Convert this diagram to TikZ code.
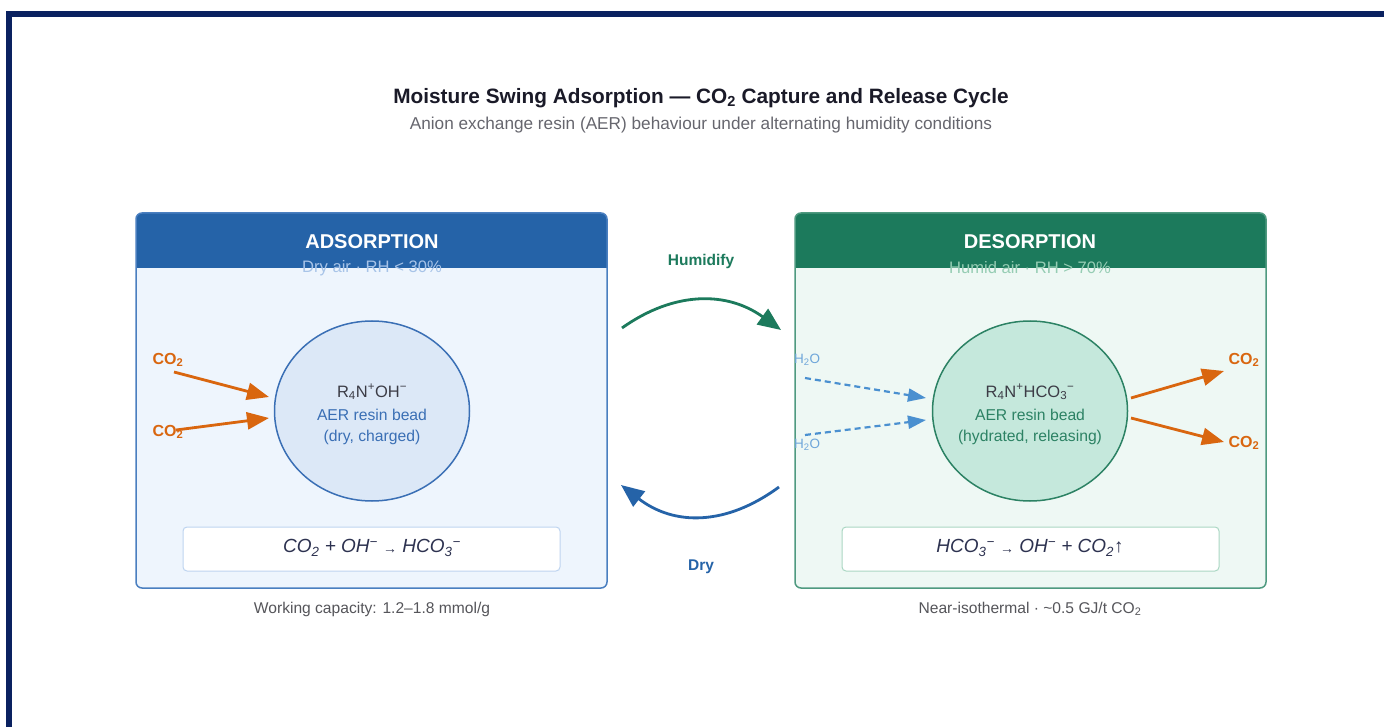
\documentclass[tikz,border=0pt]{standalone}
\usepackage{fontspec}
\setmainfont{Liberation Sans}
\usetikzlibrary{arrows.meta,shapes.geometric}
\definecolor{navy}{RGB}{10,33,96}
\definecolor{titlec}{RGB}{26,26,40}
\definecolor{subc}{RGB}{102,102,110}
\definecolor{lhead}{RGB}{37,99,168}
\definecolor{lbody}{RGB}{238,245,253}
\definecolor{lborder}{RGB}{74,127,192}
\definecolor{lcfill}{RGB}{220,232,247}
\definecolor{lcdraw}{RGB}{58,111,181}
\definecolor{lsub}{RGB}{168,196,232}
\definecolor{leqb}{RGB}{190,212,240}
\definecolor{ghead}{RGB}{28,122,92}
\definecolor{gbody}{RGB}{238,248,244}
\definecolor{gborder}{RGB}{79,154,128}
\definecolor{gcfill}{RGB}{197,232,220}
\definecolor{gcdraw}{RGB}{44,130,100}
\definecolor{gsub}{RGB}{150,205,180}
\definecolor{geqb}{RGB}{170,215,195}
\definecolor{orng}{RGB}{217,102,15}
\definecolor{h2oc}{RGB}{74,144,208}
\definecolor{darkt}{RGB}{60,60,70}
\definecolor{eqc}{RGB}{45,50,80}
\definecolor{capc}{RGB}{85,85,90}
\newcommand\fsz[1]{\fontsize{#1}{#1}\selectfont}
\newcommand\sbs[1]{\textsubscript{#1}}
\newcommand\sps[1]{\textsuperscript{#1}}
\newcommand\smarr{{\fsz{14}\raisebox{-1pt}{→}}}
\tikzset{
  txt/.style={inner sep=0pt, anchor=center},
  bead/.style={ellipse, minimum width=195pt, minimum height=180pt, inner sep=0pt, line width=1.5pt},
  eqbox/.style={fill=white, line width=1pt, rounded corners=4pt},
  co2arrow/.style={draw=orng, line width=2.8pt, -{Triangle[length=22pt,width=17pt]}},
  h2oarrow/.style={draw=h2oc, line width=2.2pt, dash pattern=on 6pt off 4pt, -{Triangle[length=18pt,width=13pt]}},
  cyclearrow/.style={line width=2.8pt, -{Triangle[length=23pt,width=19pt]}},
}
\begin{document}
\begin{tikzpicture}[x=1pt,y=-1pt]
\useasboundingbox (0,0) rectangle (1384,727);
\fill[white] (0,0) rectangle (1384,727);
\fill[navy] (6,11) rectangle (1384,17);
\fill[navy] (6,11) rectangle (12,727);

% titles
\node[txt, text=titlec] (title) at (701,98) {\fsz{20.8}\bfseries Moisture Swing Adsorption — CO\sbs{2} Capture and Release Cycle};
\node[txt, text=subc] (subtitle) at (701,125) {\fsz{17.2}Anion exchange resin (AER) behaviour under alternating humidity conditions};

% ---------- left panel ----------
\fill[lbody, rounded corners=6pt] (136,213) rectangle (607,588);
\begin{scope}
\clip[rounded corners=6pt] (136,213) rectangle (607,588);
\fill[lhead] (136,213) rectangle (607,268);
\end{scope}
\draw[lborder, line width=1.5pt, rounded corners=6pt] (136,213) rectangle (607,588);
\node[txt, text=white] (lhd) at (372,242) {\fsz{20}\bfseries ADSORPTION};
\node[txt, text=lsub] (lsubt) at (372,268) {\fsz{16.6}Dry air · RH < 30\%};

\node[bead, fill=lcfill, draw=lcdraw] (bA) at (372,411) {};
\node[txt, text=darkt] (bA1) at (372,392) {\fsz{16.5}R\sbs{4}N\sps{+}OH\sps{−}};
\node[txt, text=lcdraw] (bA2) at (372,415) {\fsz{15.7}AER resin bead};
\node[txt, text=lcdraw] (bA3) at (372,437) {\fsz{15.7}(dry, charged)};

\node[txt, text=orng] (lco1) at (168,360) {\fsz{16}\bfseries CO\sbs{2}};
\node[txt, text=orng] (lco2) at (168,432) {\fsz{16}\bfseries CO\sbs{2}};
\coordinate (la1s) at (174,372);
\coordinate (la1e) at (269,397);
\coordinate (la2s) at (176,430);
\coordinate (la2e) at (269,418);
\draw[co2arrow] (la1s) -- (la1e);
\draw[co2arrow] (la2s) -- (la2e);

\draw[eqbox, draw=leqb] (183,527) rectangle (560,571);
\node[txt, text=eqc] (leq) at (372,548) {\fsz{19}\itshape CO\sbs{2} + OH\sps{−} \smarr{} HCO\sbs{3}\sps{−}};
\node[txt, text=capc] (lcap) at (372,609) {\fsz{15.6}Working capacity: 1.2–1.8 mmol/g};

% ---------- right panel ----------
\fill[gbody, rounded corners=6pt] (795,213) rectangle (1266,588);
\begin{scope}
\clip[rounded corners=6pt] (795,213) rectangle (1266,588);
\fill[ghead] (795,213) rectangle (1266,268);
\end{scope}
\draw[gborder, line width=1.5pt, rounded corners=6pt] (795,213) rectangle (1266,588);
\node[txt, text=white] (rhd) at (1030,242) {\fsz{20}\bfseries DESORPTION};
\node[txt, text=gsub] (rsubt) at (1030,268) {\fsz{16.6}Humid air · RH > 70\%};

\node[bead, fill=gcfill, draw=gcdraw] (bD) at (1030,411) {};
\node[txt, text=darkt] (bD1) at (1030,392) {\fsz{16.5}R\sbs{4}N\sps{+}HCO\sbs{3}\sps{−}};
\node[txt, text=gcdraw] (bD2) at (1030,415) {\fsz{15.7}AER resin bead};
\node[txt, text=gcdraw] (bD3) at (1030,437) {\fsz{15.7}(hydrated, releasing)};

\node[txt, text=h2oc!80] (h1) at (807,360) {\fsz{13.5}H\sbs{2}O};
\node[txt, text=h2oc!80] (h2) at (807,445) {\fsz{13.5}H\sbs{2}O};
\coordinate (ha1s) at (805,378);
\coordinate (ha1e) at (926,398);
\coordinate (ha2s) at (805,435);
\coordinate (ha2e) at (926,420);
\draw[h2oarrow] (ha1s) -- (ha1e);
\draw[h2oarrow] (ha2s) -- (ha2e);

\node[txt, text=orng] (rco1) at (1244,360) {\fsz{16}\bfseries CO\sbs{2}};
\node[txt, text=orng] (rco2) at (1244,443) {\fsz{16}\bfseries CO\sbs{2}};
\coordinate (ra1s) at (1131,398);
\coordinate (ra1e) at (1224,371);
\coordinate (ra2s) at (1131,418);
\coordinate (ra2e) at (1224,442);
\draw[co2arrow] (ra1s) -- (ra1e);
\draw[co2arrow] (ra2s) -- (ra2e);

\draw[eqbox, draw=geqb] (842,527) rectangle (1219,571);
\node[txt, text=eqc] (req) at (1030,548) {\fsz{19}\itshape HCO\sbs{3}\sps{−} \smarr{} OH\sps{−} + CO\sbs{2}\upshape↑};
\node[txt, text=capc] (rcap) at (1030,609) {\fsz{15.6}Near-isothermal · \textasciitilde0.5 GJ/t CO\sbs{2}};

% ---------- cycle arrows ----------
\node[txt, text=ghead] (humid) at (701,261) {\fsz{15.5}\bfseries Humidify};
\node[txt, text=lhead] (dry) at (701,567) {\fsz{15.5}\bfseries Dry};
\coordinate (cs1) at (622,328);
\coordinate (ce1) at (781,330);
\coordinate (cs2) at (779,487);
\coordinate (ce2) at (621,485);
\draw[cyclearrow, ghead] (cs1) .. controls (674,291) and (727,291) .. (ce1);
\draw[cyclearrow, lhead] (cs2) .. controls (726,526) and (674,526) .. (ce2);
\end{tikzpicture}
\end{document}
